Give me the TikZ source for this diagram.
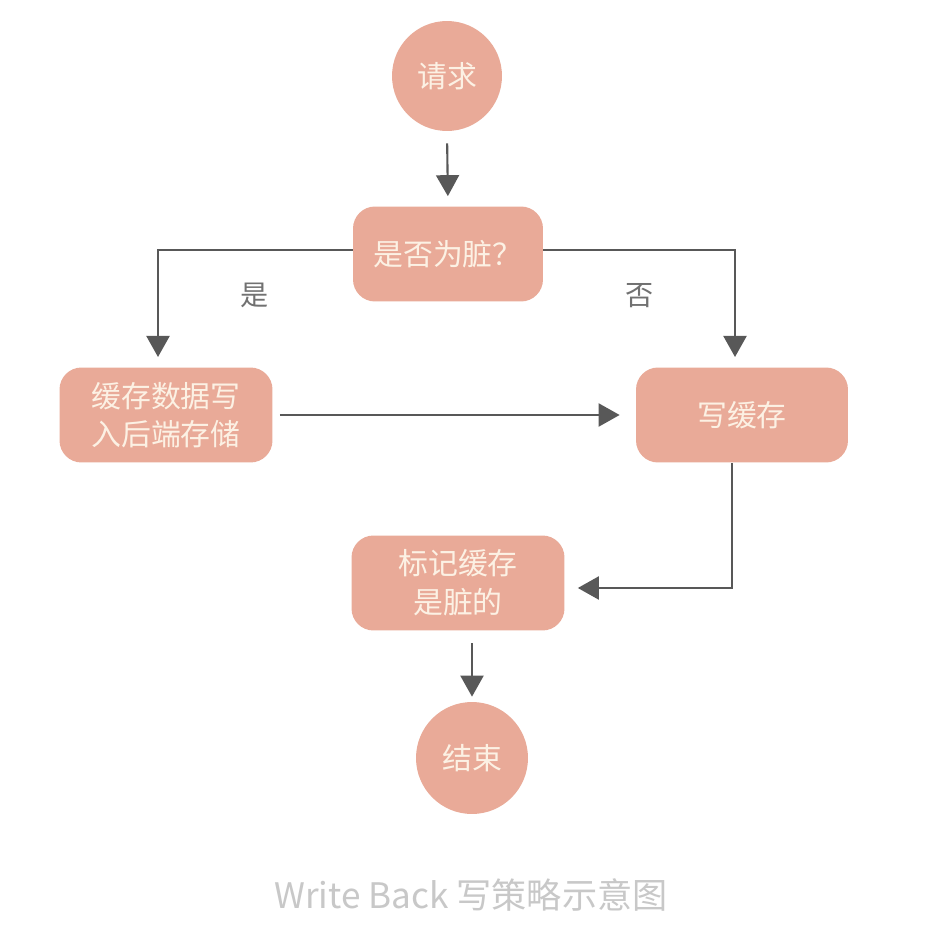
\documentclass[tikz,border=0pt]{standalone}
\usepackage{fontspec}
\setmainfont{Noto Sans CJK SC}
\usetikzlibrary{arrows.meta,positioning}
\definecolor{boxfill}{RGB}{233,170,152}
\definecolor{boxtext}{RGB}{252,241,228}
\definecolor{arrowgray}{RGB}{88,88,88}
\definecolor{capgray}{RGB}{200,200,200}
\tikzset{
  stepcircle/.style={circle, fill=boxfill, draw=none, minimum size=2.2cm, inner sep=0pt,
    text=boxtext, font=\fontsize{17}{23}\selectfont},
  stepbox/.style={rectangle, rounded corners=0.44cm, fill=boxfill, draw=none,
    minimum height=1.9cm, inner sep=0pt, align=center,
    text=boxtext, font=\fontsize{17}{22}\selectfont},
  arr/.style={draw=arrowgray, line width=1.2pt,
    -{Triangle[width=0.46cm,length=0.42cm,fill=arrowgray]}},
  branchlabel/.style={text=arrowgray!85, font=\fontsize{16}{19}\selectfont}
}
\begin{document}
\begin{tikzpicture}[x=0.02cm, y=-0.02cm]
\useasboundingbox[fill=white] (0,0) rectangle (944,943);

\node[stepcircle] (q) at (447,76) {请求};
\node[stepbox, minimum width=3.8cm] (d) at (448,254) {是否为脏？};
\node[stepbox, minimum width=4.26cm] (l) at (166,415) {缓存数据写\\入后端存储};
\node[stepbox, minimum width=4.24cm] (r) at (742,415) {写缓存};
\node[stepbox, minimum width=4.26cm] (m) at (458,583) {标记缓存\\是脏的};
\node[stepcircle, minimum size=2.24cm] (e) at (472,758) {结束};

\node[branchlabel] (yes) at (255,295) {是};
\node[branchlabel] (no) at (640,296) {否};

\node[text=capgray, font=\fontsize{20}{24}\selectfont] (cap) at (471,895) {Write Back 写策略示意图};

\coordinate (lt) at (158,368);
\coordinate (rt) at (735,368);
\coordinate (rb) at (732,463);
\coordinate (mt) at (472,630);

\draw[arr, shorten <=12pt*0.57, shorten >=10pt*0.57] (q.south) -- (d.north);
\draw[arr, shorten >=11pt*0.57] ([yshift=0.08cm]d.west) -| (lt);
\draw[arr, shorten >=11pt*0.57] ([yshift=0.08cm]d.east) -| (rt);
\draw[arr, shorten <=7pt*0.57, shorten >=16pt*0.57] (l.east) -- (r.west);
\draw[arr, shorten >=13pt*0.57] (rb) |- ([yshift=-0.1cm]m.east);
\draw[arr, shorten <=13pt*0.57, shorten >=5pt*0.57] (mt) -- (e.north);
\end{tikzpicture}
\end{document}
